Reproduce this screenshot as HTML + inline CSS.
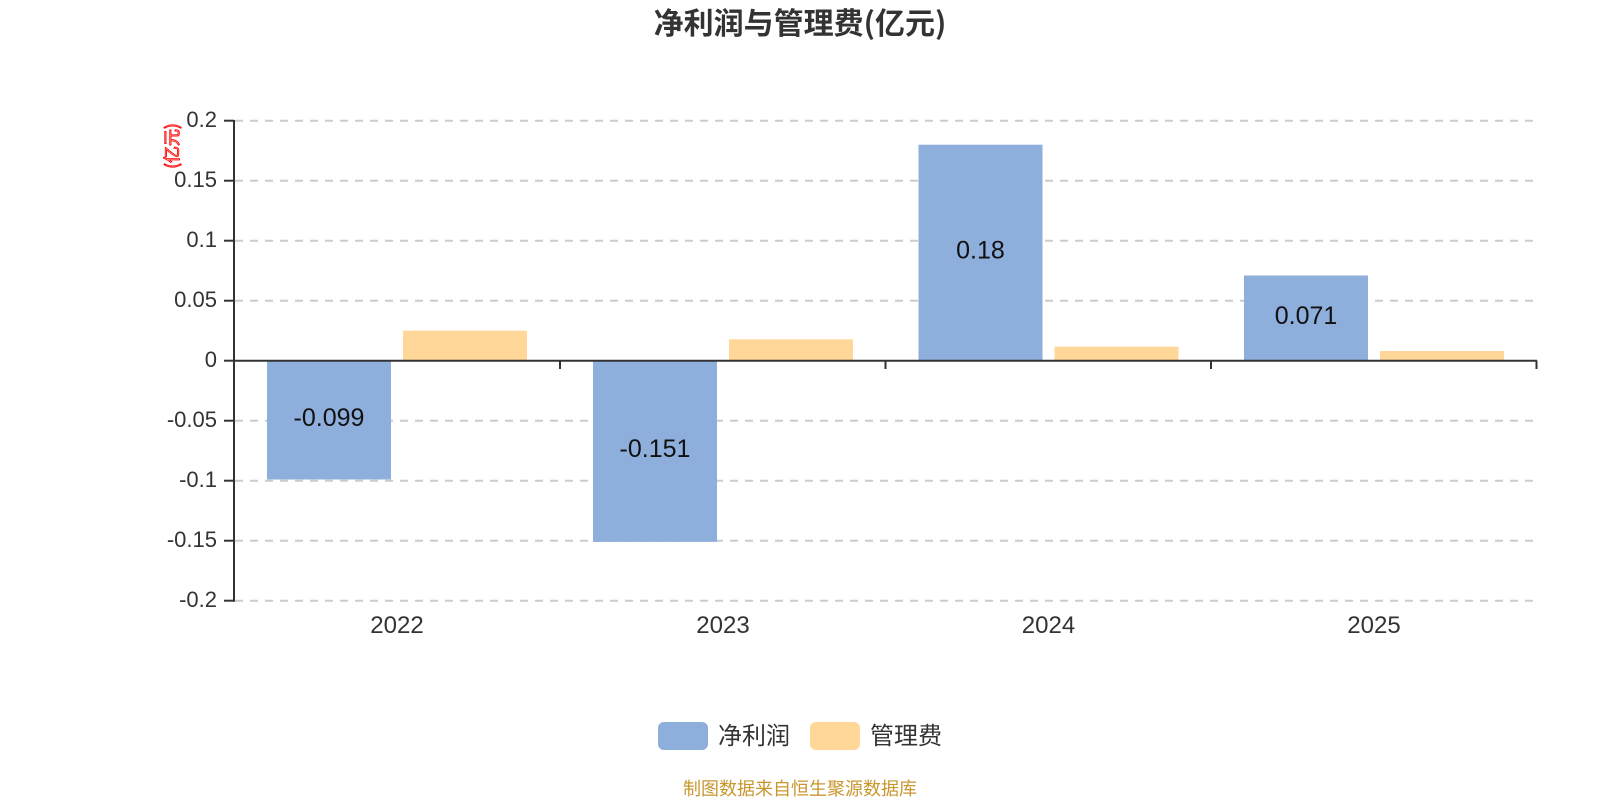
<!DOCTYPE html>
<html>
<head>
<meta charset="utf-8">
<style>
  html, body { margin: 0; padding: 0; background: #ffffff; }
  svg { display: block; }
  text { font-family: "Liberation Sans", "Noto Sans CJK SC", sans-serif; }
</style>
</head>
<body>
<svg width="1600" height="800" viewBox="0 0 1600 800" xmlns="http://www.w3.org/2000/svg">
  <rect x="0" y="0" width="1600" height="800" fill="#ffffff"/>

  <!-- Title -->
  <text x="800" y="34" text-anchor="middle" font-size="30" font-weight="bold" fill="#333333" style="font-family:'Noto Sans CJK SC','Liberation Sans',sans-serif;">净利润与管理费(亿元)</text>

  <!-- Gridlines -->
  <g stroke="#cccccc" stroke-width="2" stroke-dasharray="8 7" fill="none">
    <line x1="235" y1="120.7" x2="1537" y2="120.7"/>
    <line x1="235" y1="180.7" x2="1537" y2="180.7"/>
    <line x1="235" y1="240.7" x2="1537" y2="240.7"/>
    <line x1="235" y1="300.7" x2="1537" y2="300.7"/>
    <line x1="235" y1="420.7" x2="1537" y2="420.7"/>
    <line x1="235" y1="480.7" x2="1537" y2="480.7"/>
    <line x1="235" y1="540.7" x2="1537" y2="540.7"/>
    <line x1="235" y1="600.7" x2="1537" y2="600.7"/>
  </g>

  <!-- Bars -->
  <g>
    <rect x="267" y="360.7" width="124" height="118.8" fill="#8eaedb"/>
    <rect x="403" y="330.7" width="124" height="30" fill="#ffd899"/>
    <rect x="593" y="360.7" width="124" height="181.2" fill="#8eaedb"/>
    <rect x="729" y="339.3" width="124" height="21.4" fill="#ffd899"/>
    <rect x="918.5" y="144.7" width="124" height="216" fill="#8eaedb"/>
    <rect x="1054.5" y="346.7" width="124" height="14" fill="#ffd899"/>
    <rect x="1244" y="275.5" width="124" height="85.2" fill="#8eaedb"/>
    <rect x="1380" y="351" width="124" height="9.7" fill="#ffd899"/>
  </g>

  <!-- Bar labels -->
  <g font-size="25" fill="#111111" text-anchor="middle">
    <text x="329" y="426">-0.099</text>
    <text x="655" y="457">-0.151</text>
    <text x="980.5" y="258.5">0.18</text>
    <text x="1306" y="324">0.071</text>
  </g>

  <!-- Axes -->
  <g stroke="#333333" stroke-width="2" fill="none">
    <line x1="234" y1="120" x2="234" y2="601.7"/>
    <line x1="224" y1="120.7" x2="234" y2="120.7"/>
    <line x1="224" y1="180.7" x2="234" y2="180.7"/>
    <line x1="224" y1="240.7" x2="234" y2="240.7"/>
    <line x1="224" y1="300.7" x2="234" y2="300.7"/>
    <line x1="224" y1="360.7" x2="234" y2="360.7"/>
    <line x1="224" y1="420.7" x2="234" y2="420.7"/>
    <line x1="224" y1="480.7" x2="234" y2="480.7"/>
    <line x1="224" y1="540.7" x2="234" y2="540.7"/>
    <line x1="224" y1="600.7" x2="234" y2="600.7"/>
    <line x1="234" y1="360.7" x2="1537" y2="360.7"/>
    <line x1="560" y1="360.7" x2="560" y2="369"/>
    <line x1="885.5" y1="360.7" x2="885.5" y2="369"/>
    <line x1="1211" y1="360.7" x2="1211" y2="369"/>
    <line x1="1536.5" y1="360.7" x2="1536.5" y2="369"/>
  </g>

  <!-- Y tick labels -->
  <g font-size="22" fill="#333333" text-anchor="end">
    <text x="217" y="127">0.2</text>
    <text x="217" y="187">0.15</text>
    <text x="217" y="247">0.1</text>
    <text x="217" y="307">0.05</text>
    <text x="217" y="367">0</text>
    <text x="217" y="427">-0.05</text>
    <text x="217" y="487">-0.1</text>
    <text x="217" y="547">-0.15</text>
    <text x="217" y="607">-0.2</text>
  </g>

  <!-- Y axis name -->
  <text x="0" y="0" transform="translate(178,146) rotate(-90)" text-anchor="middle" font-size="17" fill="#ffffff" stroke="#ff0000" stroke-width="0.9" style="font-family:'Noto Sans CJK SC','Liberation Sans',sans-serif;">(亿元)</text>

  <!-- X labels -->
  <g font-size="24" fill="#333333" text-anchor="middle">
    <text x="397" y="633">2022</text>
    <text x="723" y="633">2023</text>
    <text x="1048.5" y="633">2024</text>
    <text x="1374" y="633">2025</text>
  </g>

  <!-- Legend -->
  <rect x="658" y="722" width="50" height="28" rx="6" ry="6" fill="#8eaedb"/>
  <text x="718" y="744" font-size="24" fill="#333333" style="font-family:'Noto Sans CJK SC','Liberation Sans',sans-serif;">净利润</text>
  <rect x="810" y="722" width="50" height="28" rx="6" ry="6" fill="#ffd899"/>
  <text x="870" y="744" font-size="24" fill="#333333" style="font-family:'Noto Sans CJK SC','Liberation Sans',sans-serif;">管理费</text>

  <!-- Footer -->
  <text x="800" y="795" text-anchor="middle" font-size="18" fill="#c9962e" style="font-family:'Noto Sans CJK SC','Liberation Sans',sans-serif;">制图数据来自恒生聚源数据库</text>
</svg>
</body>
</html>
